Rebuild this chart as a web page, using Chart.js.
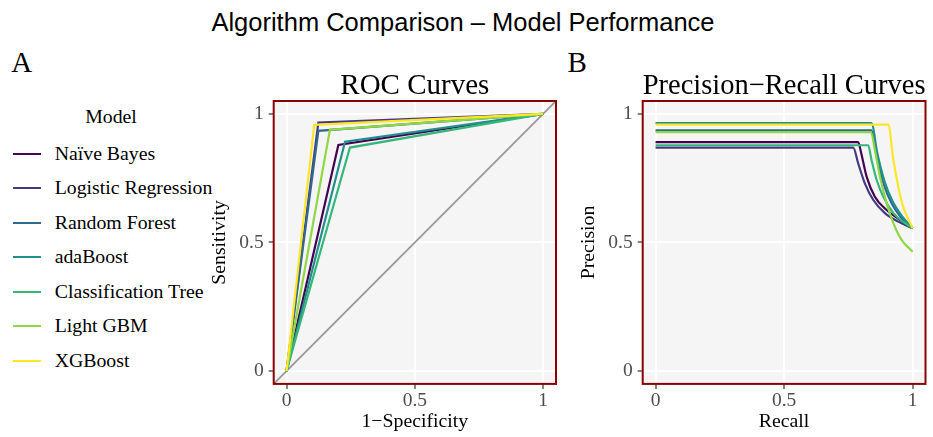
<!DOCTYPE html>
<html><head><meta charset="utf-8">
<script src="https://cdn.jsdelivr.net/npm/chart.js@4.4.1/dist/chart.umd.min.js"></script>
<style>
html,body{margin:0;padding:0;background:#fff;width:933px;height:437px;overflow:hidden;}
#wrap{position:relative;width:933px;height:437px;}
.t{position:absolute;white-space:nowrap;color:#000;}
canvas{position:absolute;}
.key{position:absolute;height:2px;width:28px;left:13px;}
</style></head><body>
<div id="wrap">
 <div class="t" style="left:0;width:926px;top:10px;text-align:center;font:25.5px/1 'Liberation Sans';">Algorithm Comparison – Model Performance</div>
 <div class="t" style="left:11.3px;top:48px;font:29px/1 'Liberation Serif'">A</div>
 <div class="t" style="left:567.5px;top:48px;font:29px/1 'Liberation Serif'">B</div>
 <div id="legend"></div>
 <canvas id="roc" width="370" height="387" style="left:200px;top:50px"></canvas>
 <canvas id="pr" width="364" height="387" style="left:569px;top:50px"></canvas>
</div>
<script>
// ---------- data ----------
const models = ['Naïve Bayes','Logistic Regression','Random Forest','adaBoost','Classification Tree','Light GBM','XGBoost'];
const palette = ['#440154','#443A83','#31688E','#21908C','#35B779','#8FD744','#FDE725'];
const legendTitle = 'Model';

// ROC: each curve goes (0,0) -> (fpr, tpr) -> (1,1)
const rocFPR = [0.202, 0.124, 0.124, 0.228, 0.247, 0.169, 0.108];
const rocTPR = [0.879, 0.966, 0.934, 0.892, 0.869, 0.938, 0.957];

// Precision-Recall curves
const prRecall = [
  [0, 0.788, 0.800, 0.821, 0.853, 0.899, 0.950, 1],
  [0, 0.769, 0.788, 0.814, 0.847, 0.892, 0.944, 1],
  [0, 0.840, 0.860, 0.886, 0.918, 0.957, 1],
  [0, 0.840, 0.862, 0.890, 0.922, 0.960, 1],
  [0, 0.827, 0.840, 0.860, 0.886, 0.925, 0.970, 1],
  [0, 0.838, 0.853, 0.873, 0.899, 0.925, 0.957, 1],
  [0, 0.905, 0.925, 0.944, 0.963, 1]
];
const prPrecision = [
  [0.890, 0.890, 0.847, 0.756, 0.678, 0.626, 0.588, 0.555],
  [0.869, 0.869, 0.808, 0.730, 0.665, 0.614, 0.581, 0.555],
  [0.936, 0.936, 0.834, 0.730, 0.652, 0.594, 0.555],
  [0.964, 0.964, 0.850, 0.740, 0.660, 0.600, 0.555],
  [0.878, 0.878, 0.821, 0.743, 0.678, 0.614, 0.575, 0.555],
  [0.929, 0.929, 0.860, 0.756, 0.652, 0.575, 0.510, 0.464],
  [0.958, 0.958, 0.821, 0.717, 0.639, 0.555]
];
const diagonal = [-0.05, 1.05];
const tickValues = [0, 0.5, 1];
const tickLabels = ['0', '0.5', '1'];
const axisRange = [-0.05, 1.05];

// ---------- legend (HTML) ----------
const LFS = 19.8;
const leg = document.getElementById('legend');
const lt = document.createElement('div');
lt.className = 't';
lt.style.cssText = "left:61px;width:100px;text-align:center;top:" + (123.3 - 0.8375 * LFS) + "px;font:" + LFS + "px/1 'Liberation Serif'";
lt.textContent = legendTitle;
leg.appendChild(lt);
models.forEach((m, i) => {
  const cy = 153.5 + 34.5 * i;
  const k = document.createElement('div');
  k.className = 'key';
  k.style.top = Math.round(cy - 1) + 'px';
  k.style.background = palette[i];
  leg.appendChild(k);
  const tx = document.createElement('div');
  tx.className = 't';
  tx.style.cssText = "left:54.7px;top:" + (cy + 0.3375 * LFS - 0.8375 * LFS) + "px;font:" + LFS + "px/1 'Liberation Serif'";
  tx.textContent = m;
  leg.appendChild(tx);
});

// ---------- chart helpers ----------
const SERIF = "'Liberation Serif'";
const panelPlugin = {
  id: 'panel',
  beforeDraw(chart) {
    const a = chart.chartArea, c = chart.ctx;
    c.save(); c.fillStyle = '#F5F5F5';
    c.fillRect(a.left, a.top, a.right - a.left, a.bottom - a.top);
    c.restore();
  },
  afterDraw(chart) {
    const a = chart.chartArea, c = chart.ctx;
    c.save(); c.strokeStyle = '#8B0000'; c.lineWidth = 2;
    c.strokeRect(a.left, a.top, a.right - a.left, a.bottom - a.top);
    c.restore();
  }
};

function scaleOpts(title, isX, titlePad) {
  return {
    type: 'linear',
    min: axisRange[0], max: axisRange[1],
    afterBuildTicks: s => { s.ticks = tickValues.map(v => ({ value: v })); },
    afterFit: s => { if (isX) s.height = 53.1; else s.width = 73.7; },
    ticks: {
      callback: v => tickLabels[tickValues.indexOf(v)],
      font: { family: SERIF, size: 19.5 }, color: '#4D4D4D', padding: isX ? 0 : 5,
      maxRotation: 0, autoSkip: false
    },
    grid: { color: '#FFFFFF', lineWidth: 2, tickColor: '#333333', tickLength: 5, tickWidth: 1.2, drawTicks: true },
    border: { display: false },
    title: { display: true, text: title, color: '#000', font: { family: SERIF, size: 19.8, lineHeight: 1.2 }, padding: titlePad }
  };
}

function makeChart(id, title, xTitle, yTitle, datasets, rightPad) {
  return new Chart(document.getElementById(id), {
    type: 'line',
    data: { datasets },
    options: {
      responsive: false, animation: false, devicePixelRatio: 1,
      events: [],
      layout: { padding: { left: 0, right: rightPad, top: 0, bottom: 0 } },
      elements: { point: { radius: 0 }, line: { tension: 0, borderWidth: 2.2, fill: false } },
      plugins: {
        legend: { display: false }, tooltip: { enabled: false },
        title: { display: true, text: title, fullSize: false, color: '#000',
                 font: { family: SERIF, size: 29, weight: 'normal', lineHeight: 1 },
                 padding: { top: 22, bottom: 0 } }
      },
      scales: {
        x: scaleOpts(xTitle, true, { top: 0, bottom: 3.4 }),
        y: scaleOpts(yTitle, false, { top: 7.8, bottom: 0 })
      }
    },
    plugins: [panelPlugin]
  });
}

// ROC datasets
const rocSets = models.map((m, i) => ({
  label: m,
  data: [{ x: 0, y: 0 }, { x: rocFPR[i], y: rocTPR[i] }, { x: 1, y: 1 }],
  borderColor: palette[i], borderWidth: 2.2, order: models.length - i
}));
rocSets.push({
  label: 'chance', data: diagonal.map(v => ({ x: v, y: v })),
  borderColor: '#999999', borderWidth: 1.8, order: 100
});
makeChart('roc', 'ROC Curves', '1\u2212Specificity', 'Sensitivity', rocSets, 14);

// PR datasets (smooth monotone curve through the read points)
const prSets = models.map((m, i) => ({
  label: m,
  data: prRecall[i].map((r, j) => ({ x: r, y: prPrecision[i][j] })),
  borderColor: palette[i], borderWidth: 2.2, order: models.length - i,
  cubicInterpolationMode: 'monotone'
}));
makeChart('pr', 'Precision\u2212Recall Curves', 'Recall', 'Precision', prSets, 7.5);
</script>
</body></html>
